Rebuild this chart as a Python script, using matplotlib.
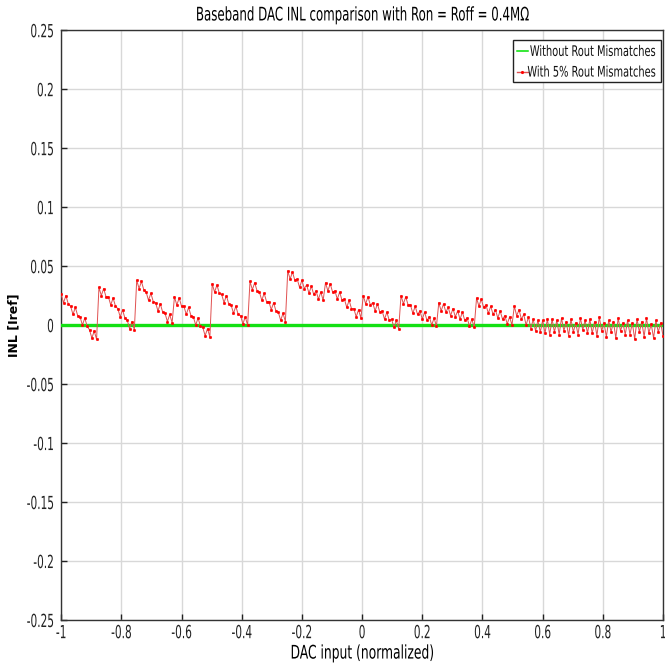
import matplotlib
matplotlib.use("Agg")
import matplotlib.pyplot as plt
import numpy as np
from matplotlib.patheffects import AbstractPathEffect
from matplotlib.transforms import Affine2D
from matplotlib.patches import Rectangle

# INL, 16 values per 1/8 segment of the input range
inl_mismatch = [
    0.026, 0.019, 0.025, 0.018, 0.016, 0.009, 0.015, 0.008,
    0.007, 0.000, 0.006, -0.001, -0.004, -0.011, -0.005, -0.012,
    0.032, 0.025, 0.031, 0.024, 0.024, 0.017, 0.023, 0.016,
    0.014, 0.007, 0.013, 0.006, 0.004, -0.003, 0.003, -0.004,
    0.038, 0.031, 0.037, 0.030, 0.028, 0.021, 0.027, 0.020,
    0.019, 0.012, 0.018, 0.011, 0.010, 0.003, 0.009, 0.002,
    0.024, 0.017, 0.023, 0.016, 0.016, 0.009, 0.015, 0.008,
    0.007, 0.000, 0.006, -0.001, -0.002, -0.009, -0.003, -0.010,
    0.035, 0.028, 0.034, 0.027, 0.026, 0.019, 0.025, 0.018,
    0.017, 0.010, 0.016, 0.009, 0.008, 0.001, 0.007, 0.000,
    0.037, 0.030, 0.036, 0.029, 0.028, 0.021, 0.027, 0.020,
    0.020, 0.013, 0.019, 0.012, 0.011, 0.004, 0.010, 0.003,
    0.046, 0.039, 0.045, 0.038, 0.039, 0.032, 0.038, 0.031,
    0.034, 0.027, 0.033, 0.026, 0.029, 0.022, 0.028, 0.021,
    0.036, 0.029, 0.035, 0.028, 0.029, 0.022, 0.028, 0.021,
    0.022, 0.015, 0.021, 0.014, 0.014, 0.007, 0.013, 0.006,
    0.025, 0.018, 0.024, 0.017, 0.019, 0.012, 0.018, 0.011,
    0.012, 0.005, 0.011, 0.004, 0.005, -0.002, 0.004, -0.003,
    0.025, 0.018, 0.024, 0.017, 0.017, 0.010, 0.016, 0.009,
    0.012, 0.005, 0.011, 0.004, 0.007, 0.000, 0.006, -0.001,
    0.019, 0.012, 0.018, 0.011, 0.015, 0.008, 0.014, 0.007,
    0.012, 0.005, 0.011, 0.004, 0.006, -0.001, 0.005, -0.002,
    0.023, 0.016, 0.022, 0.015, 0.017, 0.010, 0.016, 0.009,
    0.013, 0.006, 0.012, 0.005, 0.008, 0.001, 0.007, 0.000,
    0.016, 0.008, 0.013, 0.005, 0.009, 0.000, 0.007, -0.003,
    0.005, -0.005, 0.004, -0.006, 0.004, -0.007, 0.005, -0.008,
    0.005, -0.006, 0.004, -0.008, 0.006, -0.005, 0.003, -0.009,
    0.005, -0.006, 0.002, -0.008, 0.006, -0.004, 0.004, -0.007,
    0.005, -0.007, 0.003, -0.009, 0.007, -0.005, 0.002, -0.010,
    0.004, -0.006, 0.003, -0.011, 0.006, -0.005, 0.002, -0.008,
    0.004, -0.008, 0.002, -0.012, 0.005, -0.006, 0.003, -0.010,
    0.006, -0.007, 0.001, -0.011, 0.004, -0.006, 0.002, -0.009,
]
inl_ideal = [0.0, 0.0]
ideal_x = [-1.0, 1.0]

labels = ["Without Rout Mismatches", "With 5% Rout Mismatches"]
x_ticks = [-1, -0.8, -0.6, -0.4, -0.2, 0, 0.2, 0.4, 0.6, 0.8, 1]
x_ticklabels = ["-1", "-0.8", "-0.6", "-0.4", "-0.2", "0", "0.2", "0.4", "0.6", "0.8", "1"]
y_ticks = [-0.25, -0.2, -0.15, -0.1, -0.05, 0, 0.05, 0.1, 0.15, 0.2, 0.25]
y_ticklabels = ["-0.25", "-0.2", "-0.15", "-0.1", "-0.05", "0", "0.05", "0.1", "0.15", "0.2", "0.25"]

GREEN = "#14e014"
RED = "#e05050"


class Squeeze(AbstractPathEffect):
    # narrow the text horizontally, the reference uses a very condensed face
    def __init__(self, sx, anchor="center"):
        super().__init__()
        self.sx = sx
        self.anchor = anchor

    def draw_path(self, renderer, gc, tpath, affine, rgbFace=None):
        ext = tpath.get_extents(affine)
        if self.anchor == "center":
            x0 = 0.5 * (ext.x0 + ext.x1)
        elif self.anchor == "right":
            x0 = ext.x1
        else:
            x0 = ext.x0
        aff = affine + Affine2D().translate(-x0, 0).scale(self.sx, 1).translate(x0, 0)
        renderer.draw_path(gc, tpath, aff, rgbFace)


plt.rcParams["font.family"] = ["DejaVu Sans"]
plt.rcParams["font.stretch"] = "condensed"

codes = np.linspace(-1, 1, len(inl_mismatch))

fig = plt.figure(figsize=(6.65, 6.71), dpi=100)
ax = fig.add_axes([0.092, 0.076, 0.905, 0.879])

ax.plot(ideal_x, inl_ideal, color=GREEN, linewidth=2.4, zorder=3)
ax.plot(codes, inl_mismatch, color=RED, linewidth=0.7, marker=".", markersize=3.8,
        markerfacecolor="red", markeredgecolor="red", markeredgewidth=0.3, zorder=4)

ax.set_xlim(-1, 1)
ax.set_ylim(-0.25, 0.25)
ax.set_xticks(x_ticks)
ax.set_xticklabels(x_ticklabels)
ax.set_yticks(y_ticks)
ax.set_yticklabels(y_ticklabels)
ax.tick_params(direction="in", length=4, labelsize=13, colors="#222222", width=1)
ax.tick_params(axis="y", pad=5)
ax.tick_params(axis="x", pad=3)
ax.grid(True, color="#d8d8d8", linewidth=1)
ax.set_axisbelow(True)
for s in ax.spines.values():
    s.set_color("#333333")
    s.set_linewidth(1)

for t in ax.get_xticklabels():
    t.set_path_effects([Squeeze(0.65, "center")])
for t in ax.get_yticklabels():
    t.set_path_effects([Squeeze(0.65, "right")])

title = ax.set_title("Baseband DAC INL comparison with Ron = Roff = 0.4M\u03a9", fontsize=13.5, pad=7)
title.set_path_effects([Squeeze(0.70, "center")])
xl = ax.set_xlabel("DAC input (normalized)", fontsize=13.5, labelpad=1)
xl.set_path_effects([Squeeze(0.73, "center")])
ax.set_ylabel("INL [Iref]", fontsize=9, fontweight="bold", fontstretch="normal")
ax.yaxis.set_label_coords(-0.068, 0.5)

# legend box, drawn by hand so the frame fits the narrowed text
ax.add_patch(Rectangle((0.751, 0.912), 0.246, 0.071, transform=ax.transAxes,
                       facecolor="white", edgecolor="#222222", linewidth=1, zorder=6))
ax.plot([0.757, 0.776], [0.964, 0.964], transform=ax.transAxes, color="#00e000", linewidth=1.1, zorder=7)
ax.plot([0.757, 0.776], [0.929, 0.929], transform=ax.transAxes, color=RED, linewidth=1.0, zorder=7)
ax.plot([0.7665], [0.929], transform=ax.transAxes, color="red", marker=".", markersize=2.5, zorder=7)
for yy, lab in zip([0.964, 0.929], labels):
    t = ax.text(0.990, yy, lab, transform=ax.transAxes, fontsize=10.5, va="center", ha="right",
                color="#111111", zorder=8)
    t.set_path_effects([Squeeze(0.75, "right")])

fig.savefig("out.png", dpi=100)
